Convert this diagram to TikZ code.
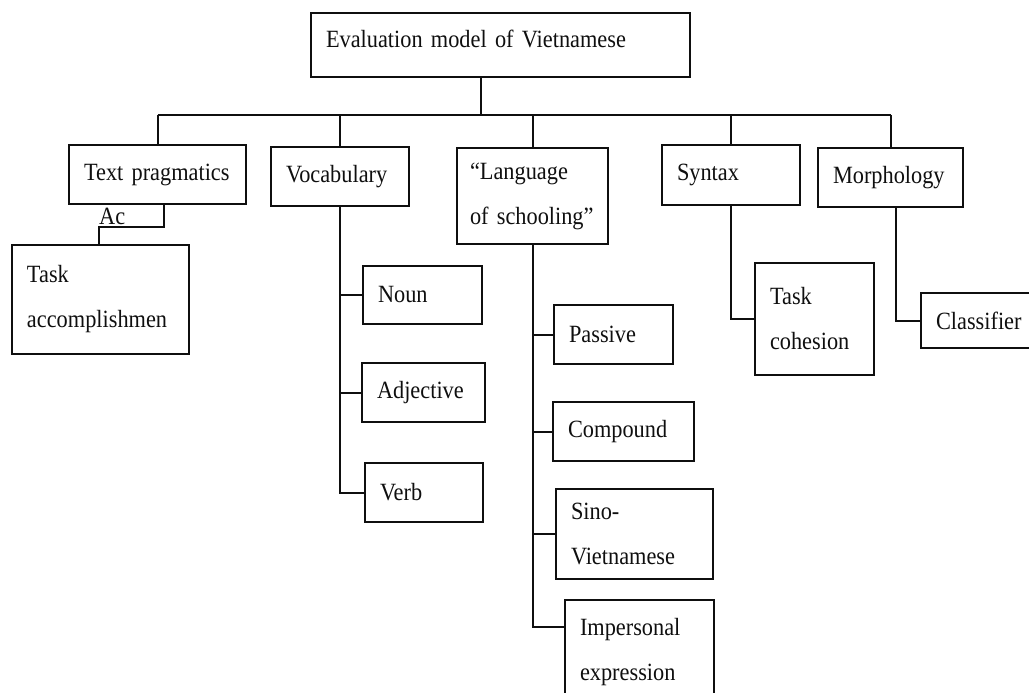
\documentclass[tikz,border=0pt]{standalone}
\usepackage{fontspec}
\setmainfont{Liberation Serif}[FakeStretch=0.9]
\usetikzlibrary{calc}
\definecolor{InkBlack}{RGB}{15,15,15}
\tikzset{
  link/.style={line width=2pt,draw=InkBlack},
  box/.style={draw=InkBlack,line width=2pt,anchor=north west,align=left,
    inner xsep=15pt,inner ysep=0pt,text=InkBlack,
    font=\fontsize{24.8}{45}\selectfont},
  plain/.style={inner sep=0pt,text=InkBlack,font=\fontsize{24.8}{45}\selectfont}
}

\begin{document}
\begin{tikzpicture}[x=1pt,y=1pt]
  \clip (0,0) rectangle (1029,-693);
  % root and first level
  \node[box,text width=349pt,minimum height=64pt,text depth=13pt] (top) at (310,-12) {Evaluation model of Vietnamese};
  \node[box,text width=147pt,minimum height=59pt] (tp) at (68,-144) {Text pragmatics};
  \node[box,text width=108pt,minimum height=59pt] (voc) at (270,-146) {Vocabulary};
  \node[box,text width=125pt,minimum height=96pt,inner xsep=13pt] (lang) at (456,-147) {“Language\\of schooling”};
  \node[box,text width=108pt,minimum height=60pt] (syn) at (661,-144) {Syntax};
  \node[box,text width=115pt,minimum height=59pt] (morph) at (817,-147) {Morphology};
  % second level
  \node[box,text width=147pt,minimum height=109pt] (tacc) at (11,-244) {Task\\accomplishmen};
  \node[plain,anchor=base west] (ac) at (99,-224) {Ac};
  \node[box,text width=89pt,minimum height=58pt] (noun) at (362,-265) {Noun};
  \node[box,text width=93pt,minimum height=59pt] (adj) at (361,-362) {Adjective};
  \node[box,text width=88pt,minimum height=59pt] (verb) at (364,-462) {Verb};
  \node[box,text width=89pt,minimum height=59pt] (pass) at (553,-304) {Passive};
  \node[box,text width=111pt,minimum height=59pt] (comp) at (552,-401) {Compound};
  \node[box,text width=127pt,minimum height=90pt] (sino) at (555,-488) {Sino-\\Vietnamese};
  \node[box,text width=119pt,minimum height=105pt] (imp) at (564,-599) {Impersonal\\expression};
  \node[box,text width=89pt,minimum height=112pt] (tcoh) at (754,-262) {Task\\cohesion};
  \node[box,text width=85pt,minimum height=55pt] (cls) at (920,-292) {Classifier};
  % bus
  \coordinate (bus) at (481,-115);
  \draw[link] (top.south -| bus) -- (bus);
  \draw[link] (tp.north |- bus) -- (morph.north |- bus);
  \foreach \n in {tp,voc,lang,syn,morph}
    \draw[link] (\n.north |- bus) -- (\n.north);
  % branches
  \coordinate (bend) at (99,-227);
  \draw[link] ([xshift=6.5pt]tp.south) |- (bend) -- (bend |- tacc.north);
  \draw[link] (voc.south) |- (verb.west);
  \foreach \n in {noun,adj}
    \draw[link] (voc.south |- \n.west) -- (\n.west);
  \draw[link] (lang.south) |- ([yshift=-28pt]imp.north west);
  \foreach \n in {pass,comp,sino}
    \draw[link] (lang.south |- \n.west) -- (\n.west);
  \draw[link] (syn.south) |- (tcoh.west);
  \draw[link] ([xshift=5pt]morph.south) |- (cls.west);
\end{tikzpicture}
\end{document}
